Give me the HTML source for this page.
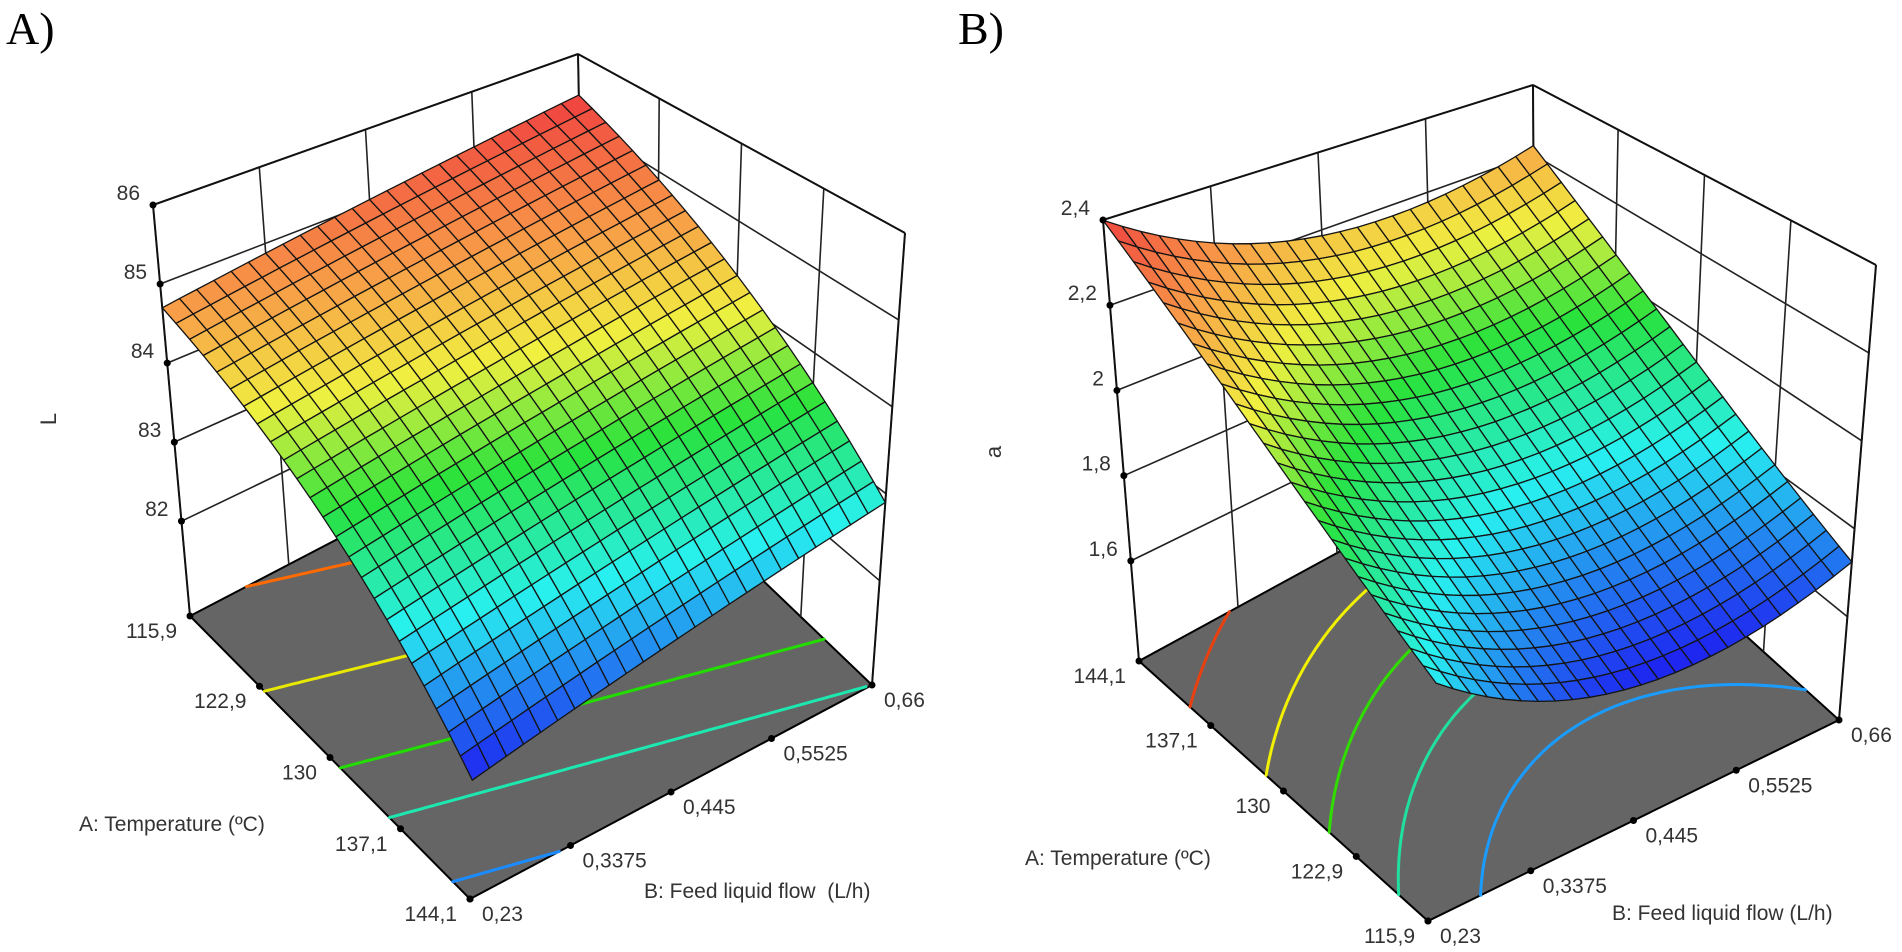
<!DOCTYPE html>
<html><head><meta charset="utf-8"><style>
html,body{margin:0;padding:0;background:#fff;}
svg{display:block;font-family:"Liberation Sans",Arial,sans-serif;}
</style></head><body>
<svg id="chart" width="1902" height="952" viewBox="0 0 1902 952" xmlns="http://www.w3.org/2000/svg">
<text x="6" y="44" font-family="Liberation Serif, serif" font-size="46" fill="#000">A)</text>
<text x="958" y="44" font-family="Liberation Serif, serif" font-size="46" fill="#000">B)</text>
<text transform="translate(56,419) rotate(-90)" text-anchor="middle" font-size="22" fill="#333">L</text>
<text transform="translate(1001,452) rotate(-90)" text-anchor="middle" font-size="22" fill="#333">a</text>
<text x="79" y="831" font-size="21" fill="#333">A: Temperature (ºC)</text>
<text x="644" y="898" font-size="21" fill="#333" xml:space="preserve">B: Feed liquid flow  (L/h)</text>
<text x="1025" y="865" font-size="21" fill="#333">A: Temperature (ºC)</text>
<text x="1612" y="920" font-size="21" fill="#333">B: Feed liquid flow (L/h)</text>
</svg>
<script>
// ---- data ----
const tempTicks = [115.9, 122.9, 130, 137.1, 144.1];
const flowTicks = [0.23, 0.3375, 0.445, 0.5525, 0.66];
const zTicksA = [82, 83, 84, 85, 86];
const zTicksB = [1.6, 1.8, 2, 2.2, 2.4];
// quadratic response-surface coefficients (coded factors): b0, bA, bB, bAB, bAA, bBB
const coefL = [83.9, -1.3, 0.4, 0.05, -0.15, 0.0];
const coefA = [1.8675, 0.2675, -0.07, -0.017, 0.05, 0.1275];
const contourLevelsL = [84.8, 84.1, 83.4, 82.9, 82.2];
const contourLevelsA = [2.27, 2.1, 1.98, 1.87, 1.76];
const contourColorsL = ['#ff6a00', '#e8e800', '#22dd00', '#1de8b0', '#1a8cff'];
const contourColorsA = ['#e84010', '#f0f000', '#30dd00', '#20e0a0', '#1a9cff'];

const NS = 'http://www.w3.org/2000/svg';
const svg = document.getElementById('chart');
function mk(tag, attrs, parent) {
  const e = document.createElementNS(NS, tag);
  for (const k in attrs) e.setAttribute(k, attrs[k]);
  (parent || svg).appendChild(e);
  return e;
}
function fmt(v) { return String(v).replace('.', ','); }

const stops = [[0, [30, 30, 240]], [0.25, [40, 240, 240]], [0.45, [40, 226, 60]], [0.62, [240, 240, 64]], [0.78, [248, 160, 72]], [1, [240, 64, 64]]];
function cmap(t) {
  t = Math.max(0, Math.min(1, t));
  for (let i = 1; i < stops.length; i++) {
    if (t <= stops[i][0]) {
      const a = stops[i - 1], b = stops[i], f = (t - a[0]) / (b[0] - a[0]);
      const c = a[1].map((x, j) => Math.round(x + (b[1][j] - x) * f));
      return 'rgb(' + c.join(',') + ')';
    }
  }
  return 'rgb(240,64,64)';
}

function drawPanel(cfg) {
  const g = mk('g', {});
  
  
  const C = cfg.corners;
  function proj(u, v, w) {
    const F = [0, 1].map(i => (1 - u) * (1 - v) * C.F00[i] + u * (1 - v) * C.F10[i] + u * v * C.F11[i] + (1 - u) * v * C.F01[i]);
    const T = [0, 1].map(i => (1 - u) * (1 - v) * C.T00[i] + u * (1 - v) * C.T10[i] + u * v * C.T11[i] + (1 - u) * v * C.T01[i]);
    return [F[0] + w * (T[0] - F[0]), F[1] + w * (T[1] - F[1])];
  }
  const zw = z => (z - cfg.zlo) / (cfg.zhi - cfg.zlo);
  function val(u, v) {
    const x1 = cfg.flipA ? 1 - 2 * u : 2 * u - 1, x2 = 2 * v - 1, c = cfg.coef;
    return c[0] + c[1] * x1 + c[2] * x2 + c[3] * x1 * x2 + c[4] * x1 * x1 + c[5] * x2 * x2;
  }
  const uOf = a => cfg.flipA ? (144.1 - a) / 28.2 : (a - 115.9) / 28.2;
  const vOf = b => (b - 0.23) / 0.43;
  const pt = p => p[0].toFixed(1) + ',' + p[1].toFixed(1);

  const floor = mk('polygon', { points: [proj(0, 0, 0), proj(1, 0, 0), proj(1, 1, 0), proj(0, 1, 0)].map(pt).join(' '), fill: '#656565', stroke: '#000', 'stroke-width': 2 }, g);
  
  

  const M = 80;
  cfg.levels.forEach((lev, li) => {
    let d = '';
    for (let i = 0; i < M; i++) for (let j = 0; j < M; j++) {
      const u0 = i / M, u1 = (i + 1) / M, v0 = j / M, v1 = (j + 1) / M;
      const q = [[u0, v0, val(u0, v0)], [u1, v0, val(u1, v0)], [u1, v1, val(u1, v1)], [u0, v1, val(u0, v1)]];
      const cr = [];
      for (let k = 0; k < 4; k++) {
        const a = q[k], b = q[(k + 1) % 4];
        if ((a[2] - lev) * (b[2] - lev) < 0) {
          const f = (lev - a[2]) / (b[2] - a[2]);
          cr.push(proj(a[0] + f * (b[0] - a[0]), a[1] + f * (b[1] - a[1]), 0));
        }
      }
      for (let k = 0; k + 1 < cr.length; k += 2) d += 'M' + pt(cr[k]) + 'L' + pt(cr[k + 1]);
    }
    const p = mk('path', { d: d, stroke: cfg.ccolors[li], 'stroke-width': 3, fill: 'none', 'stroke-linecap': 'round' }, g);
    
    
  });

  let wd = '';
  const line = (a, b) => { wd += 'M' + pt(a) + 'L' + pt(b); };
  cfg.zticks.forEach(z => { const w = zw(z); line(proj(0, 0, w), proj(0, 1, w)); line(proj(0, 1, w), proj(1, 1, w)); });
  flowTicks.forEach(b => { const v = vOf(b); line(proj(0, v, 0), proj(0, v, 1)); });
  tempTicks.forEach(a => { const u = uOf(a); line(proj(u, 1, 0), proj(u, 1, 1)); });
  const walls = mk('path', { d: wd, stroke: '#222', 'stroke-width': 1.6, fill: 'none' }, g);
  
  
  let ed = '';
  const eline = (a, b) => { ed += 'M' + pt(a) + 'L' + pt(b); };
  eline(proj(0, 0, 0), proj(0, 0, 1)); eline(proj(0, 1, 0), proj(0, 1, 1)); eline(proj(1, 1, 0), proj(1, 1, 1));
  eline(proj(0, 0, 1), proj(0, 1, 1)); eline(proj(0, 1, 1), proj(1, 1, 1));
  const edges = mk('path', { d: ed, stroke: '#111', 'stroke-width': 2, fill: 'none' }, g);
  
  

  const N = 24, Z = [];
  let smin = 1e9, smax = -1e9;
  for (let i = 0; i <= N; i++) { Z.push([]); for (let j = 0; j <= N; j++) { const z = val(i / N, j / N); Z[i].push(z); smin = Math.min(smin, z); smax = Math.max(smax, z); } }
  const cells = [];
  for (let i = 0; i < N; i++) for (let j = 0; j < N; j++) cells.push([i, j]);
  cells.sort((a, b) => (a[0] - a[1]) - (b[0] - b[1]));
  const sg = mk('g', { stroke: '#141414', 'stroke-width': 1.3, 'stroke-linejoin': 'round' }, g);
  
  
  cells.forEach(([i, j]) => {
    const pts = [[i, j], [i + 1, j], [i + 1, j + 1], [i, j + 1]].map(([a, b]) => proj(a / N, b / N, zw(Z[a][b])));
    const zc = (Z[i][j] + Z[i + 1][j] + Z[i + 1][j + 1] + Z[i][j + 1]) / 4;
    const c = mk('polygon', { points: pts.map(pt).join(' '), fill: cmap((zc - smin) / (smax - smin)) }, sg);
    
    
  });

  cfg.zticks.forEach(z => {
    const p = proj(0, 0, zw(z));
    const dot = mk('circle', { cx: p[0], cy: p[1], r: 3.5, fill: '#000' }, g);
    
    
    const t = mk('text', { x: p[0] - 13, y: p[1] - 5, 'text-anchor': 'end', 'font-size': 21, fill: '#333' }, g);
    t.textContent = fmt(z);
    
    
  });
  tempTicks.forEach(a => {
    const p = proj(uOf(a), 0, 0);
    const dot = mk('circle', { cx: p[0], cy: p[1], r: 3.5, fill: '#000' }, g);
    
    
    const t = mk('text', { x: p[0] - 13, y: p[1] + 22, 'text-anchor': 'end', 'font-size': 21, fill: '#333' }, g);
    t.textContent = fmt(a);
    
    
  });
  flowTicks.forEach(b => {
    const p = proj(1, vOf(b), 0);
    const dot = mk('circle', { cx: p[0], cy: p[1], r: 3.5, fill: '#000' }, g);
    
    
    const t = mk('text', { x: p[0] + 12, y: p[1] + 22, 'text-anchor': 'start', 'font-size': 21, fill: '#333' }, g);
    t.textContent = fmt(b);
    
    
  });
}

drawPanel({
  name: 'panel-a-lightness-surface', coef: coefL, levels: contourLevelsL, ccolors: contourColorsL,
  zticks: zTicksA, zlo: 80.8, zhi: 86, flipA: false,
  corners: { F00: [190, 616], F10: [470, 899], F11: [872, 685], F01: [585, 410], T00: [153, 205], T10: [480, 384], T11: [905, 233], T01: [578, 54] }
});
drawPanel({
  name: 'panel-b-redness-surface', coef: coefA, levels: contourLevelsA, ccolors: contourColorsA,
  zticks: zTicksB, zlo: 1.365, zhi: 2.4, flipA: true,
  corners: { F00: [1139, 661], F10: [1428, 921], F11: [1839, 720], F01: [1535, 445], T00: [1103, 220], T10: [1446, 392], T11: [1876, 265], T01: [1533, 85] }
});
</script>
</body></html>
